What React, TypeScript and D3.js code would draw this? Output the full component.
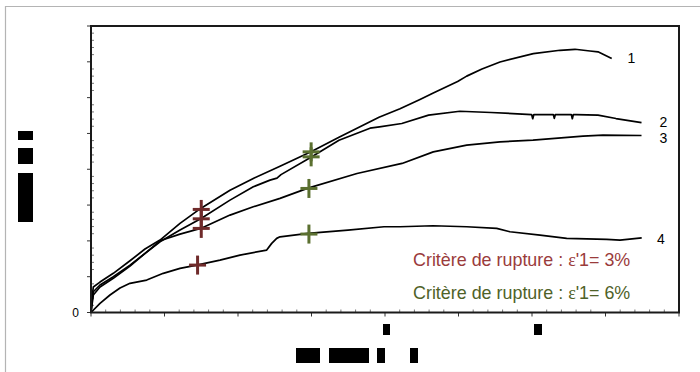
import React from "react";
import * as d3 from "d3";

// strain (%) vs deviator stress (arbitrary units, major tick every 50)
const curve1: [number, number][] = [
  [0, 0], [0.027, 20.2], [0.063, 35.6], [0.245, 42.5], [0.607, 54.7], [1.061, 72.2], [1.469, 88.6],
  [1.878, 101.1], [2.422, 124.4], [2.985, 145.3], [3.782, 170.8], [4.416, 187.2], [5.143, 204.3],
  [5.986, 224.5], [6.748, 244.8], [7.837, 272.7], [8.408, 284.5], [8.952, 297.5], [9.314, 306.5],
  [9.976, 322.6], [10.223, 330], [10.639, 340], [11.129, 349.8], [12.035, 361.5], [12.762, 366.1],
  [13.17, 367.5], [13.578, 365.1], [13.796, 364], [14.169, 354.5],
];
const curve2: [number, number][] = [
  [0, 0], [0.027, 14.6], [0.063, 29], [0.245, 38.4], [0.607, 49.9], [1.061, 66.2], [1.878, 98.7],
  [2.422, 115.1], [2.985, 130.8], [3.782, 156.9], [4.416, 175.5], [4.871, 184.8], [5.061, 187.6],
  [5.17, 192.5], [5.986, 216.9], [6.748, 240.6], [7.592, 257.3], [7.85, 259.1], [8.457, 263.9],
  [9.186, 275.5], [10.035, 281], [10.884, 279.2], [11.99, 276.4], [12.02, 270.5], [12.05, 276.4],
  [12.58, 276.4], [12.607, 271], [12.635, 276.4], [13.07, 276.4], [13.097, 270.5], [13.125, 276.4],
  [13.197, 276.4], [13.796, 275.5], [14.286, 270.8], [14.98, 265],
];
const curve3: [number, number][] = [
  [0, 0], [0.027, 10.5], [0.063, 24.4], [0.245, 35.6], [0.607, 47.7], [1.061, 64.9], [1.878, 100.1],
  [2.422, 109.5], [2.985, 117.4], [3.782, 136], [4.416, 147.6], [5.143, 159.3], [5.905, 173.6],
  [7.238, 194.1], [8.463, 208.1], [9.314, 224.3], [10.223, 233.6], [11.129, 238.2], [12.027, 240.6],
  [13.388, 246.2], [13.932, 247.6], [14.98, 247.1],
];
const curve4: [number, number][] = [
  [0, 0], [0.245, 12.8], [0.517, 24.4], [0.789, 34.2], [1.061, 40.7], [1.516, 45.3], [1.967, 54.7],
  [2.422, 61.6], [2.876, 66.2], [3.51, 73.2], [4.054, 80.2], [4.781, 87.2], [4.917, 96.5],
  [5.053, 103.5], [5.143, 105.7], [5.905, 110.5], [6.993, 115.1], [7.973, 119.7], [8.408, 119.7],
  [9.306, 121.1], [10.223, 119.7], [11.039, 117.4], [11.401, 112.7], [12.218, 108.1], [12.944, 103.5],
  [14.033, 102.1], [14.395, 101.1], [14.985, 104.3],
];
const curves = [curve1, curve2, curve3, curve4];
const curveLabels = ["1", "2", "3", "4"];
const labelPos: [number, number][] = [[14.6, 348], [15.47, 259], [15.47, 237], [15.4, 96]];

const redCrosses: [number, number][] = [[3.0, 143.9], [3.0, 130.8], [3.0, 117.4], [2.9, 66.2]];
const greenCrosses: [number, number][] = [[5.99, 224.3], [5.99, 217.3], [5.93, 173.2], [5.93, 109.5]];

const legendLines = [
  { pre: "Critère de rupture : ", eps: "ε", post: "'1= 3%", color: "#9a3b3b" },
  { pre: "Critère de rupture : ", eps: "ε", post: "'1= 6%", color: "#4f6228" },
];

const xMajor = d3.range(0, 16.001, 2);
const xMinor = d3.range(0, 16.001, 0.4).filter((v) => Math.abs(v / 2 - Math.round(v / 2)) > 1e-6);
const yMajor = d3.range(0, 400.001, 50);
const yMinor = d3.range(0, 400.001, 10).filter((v) => v % 50 !== 0);

export default function App() {
  const W = 700, H = 372;
  const x = d3.scaleLinear().domain([0, 16]).range([91, 679]);
  const y = d3.scaleLinear().domain([0, 400]).range([312.5, 26]);
  const line = d3.line<[number, number]>().x((d) => x(d[0])).y((d) => y(d[1]));
  const crossSize = 8.5;
  const cross = (p: [number, number], color: string, key: string) => (
    <g key={key} stroke={color} strokeWidth={3}>
      <line x1={x(p[0]) - crossSize} x2={x(p[0]) + crossSize} y1={y(p[1])} y2={y(p[1])} />
      <line x1={x(p[0])} x2={x(p[0])} y1={y(p[1]) - crossSize - 1} y2={y(p[1]) + crossSize + 1} />
    </g>
  );
  return (
    <svg width={W} height={H} style={{ position: "absolute", left: 0, top: 0, display: "block" }}
      fontFamily="'Liberation Sans', Arial, sans-serif">
      <rect x={0} y={0} width={W} height={H} fill="#fff" />
      <path d={`M5.5,${H + 2}V6.5H${W + 2}`} fill="none" stroke="#b4b4b4" strokeWidth={1.2} />

      {/* minor ticks (inside) */}
      {xMinor.map((v) => (
        <line key={"xm" + v} x1={x(v)} x2={x(v)} y1={y(0)} y2={y(0) - 3} stroke="#777" strokeWidth={1} />
      ))}
      {yMinor.map((v) => (
        <line key={"ym" + v} x1={x(0)} x2={x(0) + 3} y1={y(v)} y2={y(v)} stroke="#777" strokeWidth={1} />
      ))}
      {/* major ticks (outside) */}
      {xMajor.map((v) => (
        <line key={"xM" + v} x1={x(v)} x2={x(v)} y1={y(0)} y2={y(0) + 4} stroke="#333" strokeWidth={1} />
      ))}
      {yMajor.map((v) => (
        <line key={"yM" + v} x1={x(0) - 4} x2={x(0)} y1={y(v)} y2={y(v)} stroke="#333" strokeWidth={1} />
      ))}

      <text x={79} y={317} fontSize={12} textAnchor="end" fill="#000">0</text>

      {curves.map((c, i) => (
        <path key={"c" + i} d={line(c) || ""} fill="none" stroke="#000" strokeWidth={1.7} strokeLinejoin="round" />
      ))}

      <rect x={x(0)} y={y(400)} width={x(16) - x(0)} height={y(0) - y(400)} fill="none" stroke="#1a1a1a" strokeWidth={2} />

      {redCrosses.map((p, i) => cross(p, "#6f2a2a", "r" + i))}
      {greenCrosses.map((p, i) => cross(p, "#5b7030", "g" + i))}

      {curveLabels.map((t, i) => (
        <text key={"l" + t} x={x(labelPos[i][0])} y={y(labelPos[i][1])} fontSize={14} fill="#000">{t}</text>
      ))}

      {legendLines.map((l, i) => (
        <text key={"lg" + i} x={413} y={265.5 + i * 33} fontSize={17.9} fill={l.color}>
          {l.pre}
          <tspan fontFamily="'Liberation Serif', 'Times New Roman', serif">{l.eps}</tspan>
          {l.post}
        </text>
      ))}

      {/* redacted labels */}
      <rect x={18} y={131} width={15} height={9} fill="#000" />
      <rect x={18} y={148} width={15} height={16} fill="#000" />
      <rect x={18} y={173} width={15} height={49} fill="#000" />
      <rect x={383} y={324} width={7} height={11} fill="#000" />
      <rect x={534} y={324} width={8} height={11} fill="#000" />
      <rect x={296} y={348} width={24} height={15} fill="#000" />
      <rect x={329} y={348} width={40} height={15} fill="#000" />
      <rect x={377} y={348} width={8} height={15} fill="#000" />
      <rect x={410} y={348} width={8} height={15} fill="#000" />
    </svg>
  );
}
